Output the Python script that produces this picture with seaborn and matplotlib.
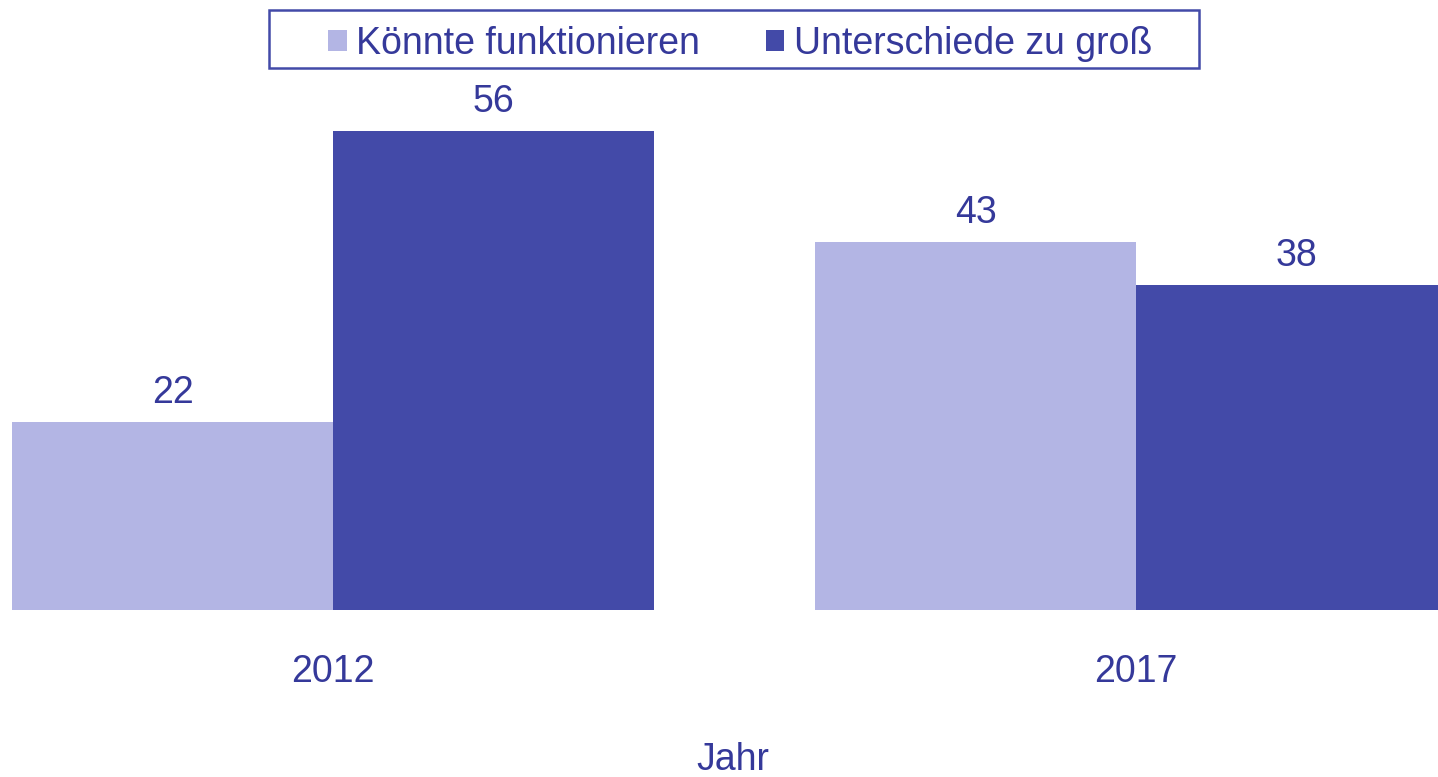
import matplotlib
matplotlib.use("Agg")
import matplotlib.pyplot as plt
from matplotlib.patches import Rectangle
import seaborn as sns
import pandas as pd

years = ["2012", "2017"]
series_names = ["Könnte funktionieren", "Unterschiede zu groß"]
vals_koennte = [22, 43]
vals_unterschiede = [56, 38]
colors = ["#b3b5e4", "#434aa8"]
text_color = "#35399a"

df = pd.DataFrame({
    "Jahr": years * 2,
    "Antwort": [series_names[0]] * 2 + [series_names[1]] * 2,
    "Wert": vals_koennte + vals_unterschiede,
})

sns.set_theme(style="white")
plt.rcParams["font.family"] = ["Liberation Sans", "DejaVu Sans"]

W, H = 1438, 777
fig = plt.figure(figsize=(W / 100, H / 100), dpi=100)
ax = fig.add_axes([0, (H - 610) / H, 1, (610 - 80) / H])

sns.barplot(data=df, x="Jahr", y="Wert", hue="Antwort", palette=colors,
            width=0.8, saturation=1, ax=ax, legend=True, linewidth=0)

ax.set_xlim(-0.415, 1.376)
ax.set_ylim(0, 530 / 8.55)

for c in ax.containers:
    ax.bar_label(c, fmt="%d", padding=8, fontsize=27, color=text_color)

for s in ax.spines.values():
    s.set_visible(False)
ax.set_yticks([])
ax.set_ylabel("")
ax.tick_params(axis="x", length=0, pad=32, labelsize=27, labelcolor=text_color)
ax.set_xlabel("Jahr", fontsize=27, color=text_color)
ax.xaxis.set_label_coords(733 / W, -(760 - 610) / (610 - 80))
ax.xaxis.label.set_verticalalignment("center")

handles, labels = ax.get_legend_handles_labels()
ax.get_legend().remove()
leg = fig.legend(handles, labels, loc="center", bbox_to_anchor=(740 / W, 1 - 44 / H),
                 ncol=2, frameon=False, fontsize=27,
                 handlelength=0.5, handleheight=0.5, handletextpad=0.25,
                 columnspacing=1.75, borderpad=0, borderaxespad=0)
for t in leg.get_texts():
    t.set_color(text_color)

fig.patches.append(Rectangle((269 / W, 1 - 68 / H), (1199 - 269) / W, 58 / H,
                             transform=fig.transFigure, fill=False,
                             edgecolor="#434aa8", linewidth=1.8))

fig.savefig("out.png", dpi=100)
